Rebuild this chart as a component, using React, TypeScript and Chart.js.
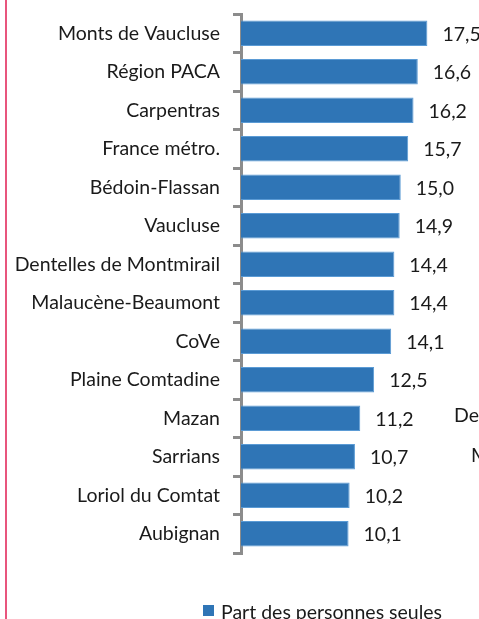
import React, { useEffect, useRef } from "react";
import { Chart, registerables } from "chart.js";

Chart.register(...registerables);

const categories = [
  "Monts de Vaucluse",
  "Région PACA",
  "Carpentras",
  "France métro.",
  "Bédoin-Flassan",
  "Vaucluse",
  "Dentelles de Montmirail",
  "Malaucène-Beaumont",
  "CoVe",
  "Plaine Comtadine",
  "Mazan",
  "Sarrians",
  "Loriol du Comtat",
  "Aubignan",
];
const values = [17.5, 16.6, 16.2, 15.7, 15.0, 14.9, 14.4, 14.4, 14.1, 12.5, 11.2, 10.7, 10.2, 10.1];
const seriesName = "Part des personnes seules";
const FONT = "Lato, 'Open Sans', sans-serif";
const FS = 19.5;

const extrasPlugin = {
  id: "extras",
  afterDatasetsDraw(chart: any) {
    const ctx = chart.ctx;
    const meta = chart.getDatasetMeta(0);
    ctx.save();
    ctx.font = `${FS}px ${FONT}`;
    ctx.fillStyle = "#1a1a1a";
    ctx.textAlign = "left";
    ctx.textBaseline = "middle";
    meta.data.forEach((bar: any, i: number) => {
      const label = values[i].toFixed(1).replace(".", ",");
      ctx.fillText(label, bar.x + 15, bar.y + 1);
    });
    // cut-off texts at the right edge
    ctx.textBaseline = "alphabetic";
    ctx.fillText("Den", 454, 422);
    ctx.fillText("M", 471, 462);
    // legend
    ctx.fillStyle = "#2f75b6";
    ctx.fillRect(203, 605, 11, 11);
    ctx.fillStyle = "#1a1a1a";
    ctx.fillText(seriesName, 221, 619);
    ctx.restore();
  },
};

export default function App() {
  const ref = useRef<HTMLCanvasElement>(null);
  useEffect(() => {
    if (!ref.current) return;
    const chart = new Chart(ref.current, {
      type: "bar",
      data: {
        labels: categories,
        datasets: [
          {
            label: seriesName,
            data: values,
            backgroundColor: "#2f75b6",
            borderColor: "#5b9bd5",
            borderWidth: 1,
            borderSkipped: "left",
            barPercentage: 0.66,
            categoryPercentage: 1,
          },
        ],
      },
      options: {
        indexAxis: "y",
        animation: false,
        responsive: false,
        maintainAspectRatio: false,
        layout: { padding: { top: 14, bottom: 66, left: 0, right: 25 } },
        plugins: {
          legend: { display: false },
          tooltip: { enabled: false },
        },
        scales: {
          x: {
            display: false,
            min: 0,
            max: 20,
          },
          y: {
            afterFit(scale: any) {
              scale.width = 241;
              scale.paddingTop = 0;
              scale.paddingBottom = 0;
            },
            grid: {
              display: true,
              drawOnChartArea: false,
              drawTicks: true,
              tickLength: 8,
              color: "#8c8c8c",
              lineWidth: 3,
              offset: true,
            },
            border: { display: true, color: "#8c8c8c", width: 3 },
            ticks: {
              color: "#1a1a1a",
              font: { family: FONT, size: FS },
              padding: 13,
            },
          },
        },
      },
      plugins: [extrasPlugin],
    });
    return () => chart.destroy();
  }, []);
  return (
    <div style={{ position: "fixed", left: 0, top: 0, width: 479, height: 619, background: "#fff", overflow: "hidden" }}>
      <div style={{ position: "absolute", left: 5, top: 0, width: 2, height: 619, background: "#e8557d" }} />
      <canvas ref={ref} width={479} height={619} style={{ position: "absolute", left: 0, top: 0 }} />
    </div>
  );
}
